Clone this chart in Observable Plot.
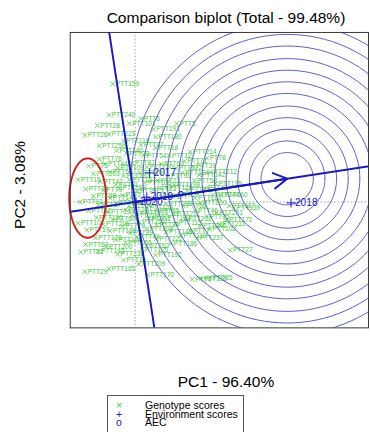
<!DOCTYPE html>
<html><head><meta charset="utf-8">
<script src="https://cdn.jsdelivr.net/npm/d3@7"></script>
<script src="https://cdn.jsdelivr.net/npm/@observablehq/plot@0.6"></script>
<style>
html,body{margin:0;padding:0;background:#fff;overflow:hidden;width:370px;height:432px;}
#wrap{position:relative;width:370px;height:432px;overflow:hidden;font-family:"Liberation Sans",Arial,sans-serif;}
#chart{position:absolute;left:0;top:0;}
.t{position:absolute;white-space:nowrap;color:#000;line-height:1;}
#title{left:226px;top:10px;transform:translateX(-50%);font-size:15.5px;}
#xlab{left:226px;top:374px;transform:translateX(-50%);font-size:15.5px;}
#ylab{left:20px;top:185px;transform:translate(-50%,-50%) rotate(-90deg);font-size:15.5px;}
#legend{position:absolute;left:107px;top:395px;width:135px;height:40px;border:1px solid #555;font-size:10.5px;background:#fff;}
.row{position:absolute;left:0;height:9px;line-height:9px;white-space:nowrap;}
.sym{position:absolute;left:7px;width:8px;text-align:center;}
.lab{position:absolute;left:37px;color:#000;}
</style></head>
<body><div id="wrap">
<div id="chart"></div>
<div class="t" id="title">Comparison biplot (Total - 99.48%)</div>
<div class="t" id="xlab">PC1 - 96.40%</div>
<div class="t" id="ylab">PC2 - 3.08%</div>
<div id="legend"></div>
</div>
<script>
// Genotype scores (PC1, PC2)
const genoNames = ["PTT159","PTT240","PTT6","PTT5","PTT28","PTT101","PTT191","PTT26","PTT223","PTT180","PTT256","PTT118","PTT97","PTT18","PTT76","PTT33","PTT8","PTT142","PTT160","PTT71","PTT12","PTT214","PTT140","PTT54",
"PTT3","PTT44","PTT109","PTT87","PTT150","PTT63","PTT122","PTT39","PTT15","PTT201","PTT66","PTT130","PTT19","PTT91","PTT174","PTT212","PTT47","PTT81","PTT157","PTT106","PTT23","PTT198","PTT58","PTT135",
"PTT74","PTT9","PTT168","PTT225","PTT31","PTT120","PTT252","PTT41","PTT88","PTT146","PTT2","PTT177","PTT59","PTT113","PTT244","PTT93","PTT37","PTT187","PTT14","PTT128","PTT203","PTT68","PTT230","PTT117",
"PTT52","PTT194","PTT22","PTT163","PTT85","PTT211","PTT46","PTT251","PTT139","PTT126","PTT60","PTT219","PTT11","PTT183","PTT232","PTT95","PTT171","PTT10","PTT206","PTT78","PTT151","PTT34","PTT115","PTT246","PTT231",
"PTT57","PTT189","PTT99","PTT208","PTT143","PTT7","PTT102","PTT178","PTT136","PTT49","PTT222","PTT110","PTT237","PTT69","PTT200","PTT155","PTT62","PTT186","PTT21","PTT145","PTT238","PTT125",
"PTT192","PTT209","PTT36","PTT165","PTT29","PTT27","PTT4","PTT116","PTT65","PTT170"];
const genoPC1 = [-0.23,-0.27,0.06,0.43,-0.39,-0.06,0.19,-0.52,-0.27,0.21,-0.37,-0.12,0.06,0.21,-0.37,-0.09,0.74,0.66,0.89,0.51,0.35,0.57,-0.19,0.09,
-0.48,-0.31,-0.18,-0.03,0.12,0.27,0.42,0.60,-0.59,-0.43,-0.26,-0.12,0.05,0.34,0.49,0.78,-0.36,-0.20,-0.06,0.10,0.23,0.40,0.61,0.83,
-0.51,-0.33,-0.16,0.02,0.19,0.32,0.54,0.72,-0.43,-0.26,-0.13,0.27,0.42,0.62,0.80,-0.57,-0.38,-0.20,-0.06,0.12,0.32,0.50,0.67,0.97,
-0.48,-0.28,-0.10,0.07,0.22,0.40,0.62,0.84,1.02,-0.40,-0.23,-0.03,0.14,0.30,0.52,0.74,0.94,-0.59,-0.33,-0.13,0.04,0.22,0.42,0.67,0.87,
-0.50,-0.26,-0.05,0.12,0.32,0.57,0.77,-0.41,-0.20,0.02,0.22,0.47,0.64,-0.51,-0.30,-0.10,0.12,0.37,-0.56,-0.38,-0.18,0.07,
0.21,0.04,-0.12,-0.27,-0.52,0.98,0.59,0.68,0.77,0.13];
const genoPC2 = [1.22,0.90,0.86,0.81,0.79,0.81,0.75,0.69,0.70,0.67,0.58,0.63,0.59,0.56,0.44,0.50,0.45,0.28,0.07,0.42,0.48,0.52,0.53,0.48,
0.37,0.39,0.35,0.40,0.36,0.39,0.35,0.37,0.23,0.29,0.31,0.27,0.30,0.27,0.30,0.31,0.21,0.18,0.23,0.20,0.22,0.18,0.22,0.19,
0.13,0.12,0.14,0.11,0.13,0.15,0.12,0.14,0.06,0.04,0.07,0.05,0.07,0.04,0.07,0.00,-0.03,-0.01,-0.04,-0.06,-0.02,-0.04,-0.01,-0.04,
-0.09,-0.10,-0.08,-0.11,-0.09,-0.12,-0.09,-0.11,-0.06,-0.16,-0.18,-0.14,-0.17,-0.16,-0.18,-0.15,-0.19,-0.22,-0.23,-0.25,-0.21,-0.24,-0.22,-0.25,-0.23,
-0.29,-0.30,-0.32,-0.28,-0.31,-0.30,-0.28,-0.37,-0.39,-0.36,-0.38,-0.35,-0.37,-0.44,-0.46,-0.42,-0.45,-0.43,-0.52,-0.51,-0.54,-0.49,
-0.55,-0.64,-0.60,-0.69,-0.72,-0.50,-0.80,-0.79,-0.78,-0.75];

// Environment scores
const envNames = ["2017","2018","2019","2020"];
const envPC1 = [0.15,1.61,0.12,0.01];
const envPC2 = [0.30,-0.01,0.05,0.00];

// Ideal genotype (centre of concentric circles) and circle radii
const idealPC1 = 1.57, idealPC2 = 0.24;
const ringRadii = [0.27,0.39,0.51,0.63,0.75,0.88,1.00,1.12,1.24,1.37,1.49,1.61];

// Highlight ellipse (red)
const ellipseCenter = [-0.49, 0.04], ellipseRadii = [0.19, 0.41];

// Axis titles and legend labels
const titleText = "Comparison biplot (Total - 99.48%)";
const xTitle = "PC1 - 96.40%", yTitle = "PC2 - 3.08%";
const legendLabels = ["Genotype scores","Environment scores","AEC"];

const geno = genoNames.map((n,i)=>({name:n,x:genoPC1[i],y:genoPC2[i]}));
const env = envNames.map((n,i)=>({name:n,x:envPC1[i],y:envPC2[i]}));
const avg = [{x:d3.mean(envPC1), y:d3.mean(envPC2)}];

const rings = [];
ringRadii.forEach((r,k)=>{ for(let a=0;a<=120;a++){const t=a/120*2*Math.PI; rings.push({ring:k,x:idealPC1+r*Math.cos(t),y:idealPC2+r*Math.sin(t)});}});
const L = Math.hypot(idealPC1, idealPC2), ux=idealPC1/L, uy=idealPC2/L;
const aecLine = [{x:-4*ux,y:-4*uy},{x:4*ux,y:4*uy}];
const perpLine = [{x:4*uy,y:-4*ux},{x:-4*uy,y:4*ux}];
const ell = d3.range(0,121).map(a=>{const t=a/120*2*Math.PI; return {x:ellipseCenter[0]+ellipseRadii[0]*Math.cos(t), y:ellipseCenter[1]+ellipseRadii[1]*Math.sin(t)};});

const GREEN="#3cc83c", BLUE="#1818c8", RING="#5a5acc";

const chart = Plot.plot({
  width:382, height:432, marginLeft:72, marginRight:2, marginTop:33, marginBottom:94,
  x:{domain:[-0.67,2.41], axis:null},
  y:{domain:[-1.30,1.75], axis:null},
  style:{background:"transparent", fontFamily:"'Liberation Sans',Arial,sans-serif"},
  marks:[
    Plot.ruleX([0],{stroke:"#999", strokeDasharray:"1.5,2"}),
    Plot.ruleY([0],{stroke:"#999", strokeDasharray:"1.5,2"}),
    Plot.dot(geno,{x:"x",y:"y",symbol:"times",r:2.3,stroke:GREEN,strokeWidth:0.8}),
    Plot.text(geno,{x:"x",y:"y",text:"name",dx:3,textAnchor:"start",fill:GREEN,fontSize:6.8}),
    Plot.line(rings,{x:"x",y:"y",z:"ring",stroke:RING,strokeWidth:1,clip:true}),
    Plot.line(aecLine,{x:"x",y:"y",stroke:BLUE,strokeWidth:2,clip:true}),
    Plot.line(perpLine,{x:"x",y:"y",stroke:BLUE,strokeWidth:2,clip:true}),
    Plot.arrow([{x1:0,y1:0,x2:idealPC1,y2:idealPC2}],{x1:"x1",y1:"y1",x2:"x2",y2:"y2",stroke:BLUE,strokeWidth:2,headLength:12}),
    Plot.dot(env,{x:"x",y:"y",symbol:"plus",r:3.2,stroke:BLUE,strokeWidth:1}),
    Plot.text(env,{x:"x",y:"y",text:"name",dx:4,textAnchor:"start",fill:BLUE,fontSize:10.5}),
    Plot.dot(avg,{x:"x",y:"y",r:2.5,stroke:BLUE,fill:"none",strokeWidth:1}),
    Plot.line(ell,{x:"x",y:"y",stroke:"#d42020",strokeWidth:2}),
    Plot.frame({stroke:"#333"})
  ]
});
document.getElementById("chart").appendChild(chart);
document.getElementById("title").textContent = titleText;
document.getElementById("xlab").textContent = xTitle;
document.getElementById("ylab").textContent = yTitle;
const syms = [{s:"×",c:GREEN},{s:"+",c:BLUE},{s:"o",c:BLUE}];
const lg = document.getElementById("legend");
legendLabels.forEach((t,i)=>{
  const row=document.createElement("div"); row.className="row"; row.style.top=(5+i*8.5)+"px"; row.style.width="100%";
  row.innerHTML=`<span class="sym" style="color:${syms[i].c}">${syms[i].s}</span><span class="lab">${t}</span>`;
  lg.appendChild(row);
});
</script>
</body></html>
